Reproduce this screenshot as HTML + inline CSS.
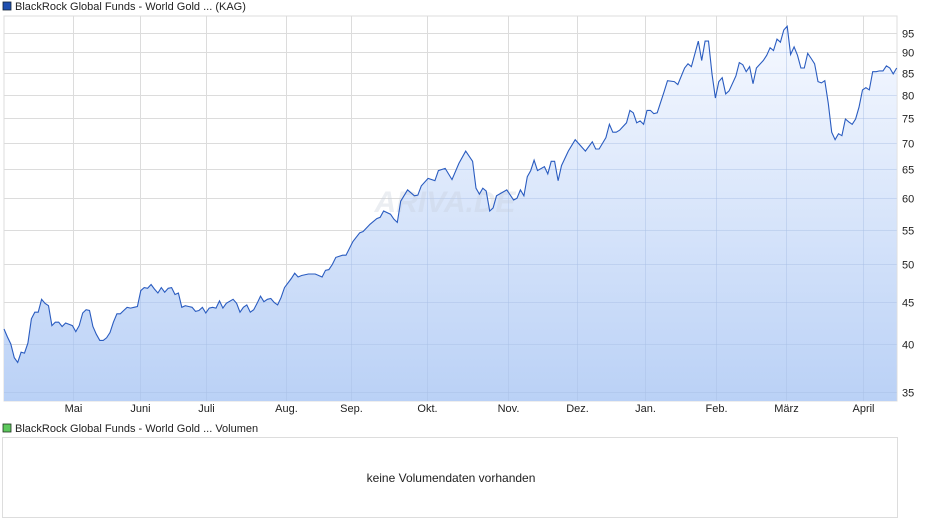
<!DOCTYPE html>
<html><head><meta charset="utf-8">
<style>
body{margin:0;background:#fff;width:940px;height:526px;overflow:hidden;font-family:"Liberation Sans",sans-serif}
svg{display:block}
text{font-family:"Liberation Sans",sans-serif;fill:#222}
</style></head>
<body>
<svg id="chart" width="940" height="526" viewBox="0 0 940 526">
<defs>
<linearGradient id="fillg" x1="0" y1="0" x2="0" y2="1">
<stop offset="0" stop-color="#f6f9ff"/>
<stop offset="1" stop-color="#bad1f6"/>
</linearGradient>
<clipPath id="areaclip"><path id="clippath"/></clipPath>
</defs>
<rect x="3" y="2" width="8" height="8" fill="#1f4fb0" stroke="#123" stroke-width="0.8"/>
<text x="15" y="10" font-size="11">BlackRock Global Funds - World Gold ... (KAG)</text>
<g id="grid"></g>
<path id="area" fill="url(#fillg)"/>
<g id="overlay" clip-path="url(#areaclip)"></g>
<text x="445" y="212" font-size="30" font-style="italic" font-weight="bold" text-anchor="middle" style="fill:#c8d0dc;opacity:0.35">ARIVA.DE</text>
<path id="line" fill="none" stroke="#2a5cc0" stroke-width="1.1"/>
<g id="yaxis"></g>
<g id="xaxis"></g>
<rect x="3" y="424" width="8" height="8" fill="#5cc85c" stroke="#232" stroke-width="0.8"/>
<text x="15" y="432" font-size="11">BlackRock Global Funds - World Gold ... Volumen</text>
<rect x="2.5" y="437.5" width="895" height="80" fill="#fff" stroke="#ddd"/>
<text x="451" y="482" font-size="12" text-anchor="middle">keine Volumendaten vorhanden</text>
</svg>
<script>
const days=[0,1,2,3,4,5,6,7,8,9,10,11,12,13,14,15,16,17,18,20,21,22,23,24,25,26,27,28,29,30,31,32,33,34,35,36,37,38,39,40,41,42,43,44,45,46,47,48,49,50,51,52,53,54,55,56,57,58,59,60,61,62,63,64,65,67,68,69,70,71,72,73,74,75,76,77,78,79,80,81,82,84,85,86,87,89,90,91,92,93,94,95,96,97,99,100,102,104,105,107,109,110,111,113,114,115,116,118,120,121,122,124,126,127,129,131,133,135,137,138,139,140,141,142,143,144,147,149,150,151,152,153,154,155,156,158,159,160,161,162,163,165,167,170,172,173,174,176,177,178,179,180,182,183,184,185,186,187,188,189,190,191,193,194,196,197,199,200,201,203,204,205,206,207,208,209,210,211,212,214,215,216,217,218,219,220,222,223,224,225,226,227,228,229,230,231,232,233,234,235,236,237,238,239,240,241,242,243,244,245,246,247,248,249,250,251,252,253,254,255,256,257,258,259,260,261];
const prices=[41.7,40.8,40.0,38.5,38.0,39.1,39.0,40.1,42.9,43.7,43.7,45.3,44.8,44.5,42.1,42.5,42.5,42.0,42.4,42.1,41.4,42.1,43.6,44.0,43.9,42.0,41.1,40.4,40.4,40.7,41.3,42.5,43.5,43.5,43.9,44.3,44.2,44.3,44.4,46.4,46.8,46.7,47.2,46.6,46.1,46.8,46.2,46.7,46.8,45.9,46.1,44.3,44.5,44.4,44.3,43.8,43.9,44.3,43.6,44.2,44.3,44.2,45.1,44.2,44.8,45.3,44.8,43.7,44.3,44.6,43.7,44.0,44.8,45.7,45.0,45.3,45.4,44.9,44.6,45.5,46.8,48.0,48.7,48.2,48.4,48.6,48.6,48.6,48.4,48.2,49.1,49.2,49.9,50.9,51.2,51.2,53.2,54.5,54.7,55.8,56.7,56.9,57.9,57.4,56.6,56.1,59.5,61.4,60.4,60.5,62.1,63.4,63.0,64.8,65.2,63.2,66.1,68.4,66.5,61.7,60.7,61.7,61.2,57.9,58.4,60.4,61.4,59.7,60.0,61.4,60.4,63.7,64.8,66.7,64.8,65.5,64.2,66.5,66.5,63.0,65.7,68.4,70.6,68.4,70.2,68.8,68.8,71.0,73.7,72.1,72.1,72.5,74.0,76.6,76.1,74.0,74.4,73.7,76.6,76.6,75.9,76.1,80.7,83.2,83.0,82.3,86.2,87.2,86.5,92.9,88.0,92.9,92.9,84.8,79.3,83.0,83.9,80.2,80.9,84.3,87.5,87.0,85.3,86.5,82.5,86.2,88.0,89.3,91.2,90.5,93.4,92.6,95.8,96.8,89.5,91.4,89.3,86.2,86.2,89.8,88.5,87.2,83.0,82.7,83.2,78.1,72.1,70.6,71.8,71.4,74.8,74.2,73.7,74.8,77.3,81.1,81.6,81.1,85.3,85.3,85.5,85.5,86.7,86.2,84.8,86.2];
const yTicks=[35,40,45,50,55,60,65,70,75,80,85,90,95];
const monthLabels=["Mai","Juni","Juli","Aug.","Sep.","Okt.","Nov.","Dez.","Jan.","Feb.","März","April"];
const monthDays=[20.2,39.8,59.1,82.5,101.5,123.7,147.4,167.5,187.4,208.2,228.7,251.2];

const X0=4,X1=897,Y0=16,Y1=401;
const dMin=0,dMax=261.1;
function xs(d){return X0+(d-dMin)/(dMax-dMin)*(X1-X0);}
function ys(v){return 392-Math.log(v/35)*359.5;}
const NS="http://www.w3.org/2000/svg";
const grid=document.getElementById('grid'),yax=document.getElementById('yaxis'),xax=document.getElementById('xaxis'),ov=document.getElementById('overlay');
function mk(tag,attrs,parent){const e=document.createElementNS(NS,tag);for(const k in attrs)e.setAttribute(k,attrs[k]);parent.appendChild(e);return e;}
const bg=mk('rect',{x:X0,y:Y0,width:X1-X0,height:Y1-Y0,fill:'#fff',stroke:'#ddd'},grid);


yTicks.forEach(v=>{
  const y=Math.round(ys(v))+0.5;
  const l=mk('line',{x1:X0,x2:X1,y1:y,y2:y,stroke:'#dcdcdc'},grid);
  
  
  const o=mk('line',{x1:X0,x2:X1,y1:y,y2:y,stroke:'#a8bfe4','stroke-opacity':0.45},ov);
  
  
  const t=mk('text',{x:902,y:y+4,'font-size':11},yax);
  
  
  t.textContent=v;
});
monthDays.forEach((d,i)=>{
  const x=Math.round(xs(d))+0.5;
  const l=mk('line',{x1:x,x2:x,y1:Y0,y2:Y1,stroke:'#dcdcdc'},grid);
  
  
  const o=mk('line',{x1:x,x2:x,y1:Y0,y2:Y1,stroke:'#a8bfe4','stroke-opacity':0.45},ov);
  
  
  const t=mk('text',{x:x,y:412,'font-size':11,'text-anchor':'middle'},xax);
  
  
  t.textContent=monthLabels[i];
});
let p='';
days.forEach((d,i)=>{p+=(i?'L':'M')+xs(d).toFixed(1)+','+ys(prices[i]).toFixed(1);});
const ap=p+'L'+xs(days[days.length-1]).toFixed(1)+','+Y1+'L'+xs(days[0]).toFixed(1)+','+Y1+'Z';
document.getElementById('line').setAttribute('d',p);
document.getElementById('area').setAttribute('d',ap);
document.getElementById('clippath').setAttribute('d',ap);
</script>
</body></html>
